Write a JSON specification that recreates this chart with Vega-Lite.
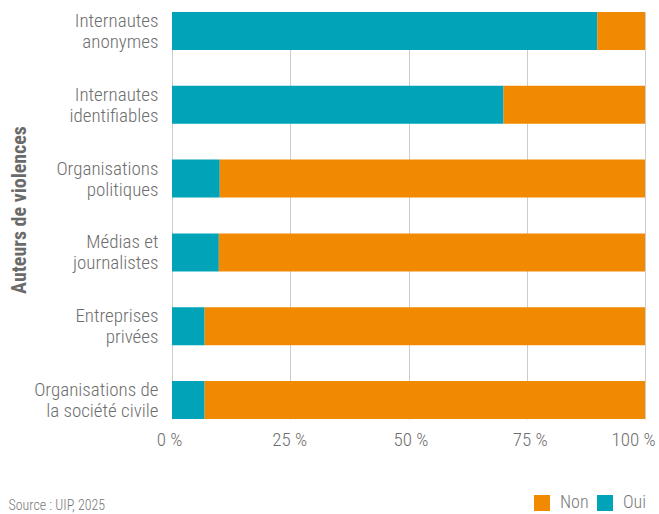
{
  "$schema": "https://vega.github.io/schema/vega-lite/v6.json",
  "width": 473,
  "height": 407,
  "autosize": "none",
  "padding": {"left": 172, "top": 12, "right": 14, "bottom": 95},
  "background": "white",
  "config": {
    "view": {"stroke": null},
    "font": "Roboto Condensed, DejaVu Sans Condensed, sans-serif"
  },
  "data": {
    "values": [
      {"auteur": "Internautes anonymes", "reponse": "Oui", "pct": 89.9},
      {"auteur": "Internautes anonymes", "reponse": "Non", "pct": 10.1},
      {"auteur": "Internautes identifiables", "reponse": "Oui", "pct": 70.1},
      {"auteur": "Internautes identifiables", "reponse": "Non", "pct": 29.9},
      {"auteur": "Organisations politiques", "reponse": "Oui", "pct": 10.1},
      {"auteur": "Organisations politiques", "reponse": "Non", "pct": 89.9},
      {"auteur": "Médias et journalistes", "reponse": "Oui", "pct": 9.9},
      {"auteur": "Médias et journalistes", "reponse": "Non", "pct": 90.1},
      {"auteur": "Entreprises privées", "reponse": "Oui", "pct": 6.9},
      {"auteur": "Entreprises privées", "reponse": "Non", "pct": 93.1},
      {"auteur": "Organisations de la société civile", "reponse": "Oui", "pct": 6.9},
      {"auteur": "Organisations de la société civile", "reponse": "Non", "pct": 93.1}
    ]
  },
  "mark": {"type": "bar"},
  "encoding": {
    "y": {
      "field": "auteur",
      "type": "nominal",
      "sort": null,
      "scale": {"paddingInner": 0.485, "paddingOuter": 0},
      "axis": {
        "title": "Auteurs de violences",
        "titleFont": "Roboto Condensed, sans-serif",
        "titleFontSize": 20,
        "titleFontWeight": "bold",
        "titleColor": "#6a6a6a",
        "titleX": -153,
        "titleY": 197.5,
        "titleAngle": -90,
        "titleAlign": "center",
        "titleBaseline": "middle",
        "labelFontSize": 19,
        "labelFontWeight": 300,
        "labelColor": "#6e6e6e",
        "labelPadding": 14,
        "labelLineHeight": 21,
        "labelOffset": -10,
        "labelLimit": 200,
        "domain": false,
        "ticks": false,
        "labelExpr": "{'Internautes anonymes': ['Internautes', 'anonymes'], 'Internautes identifiables': ['Internautes', 'identifiables'], 'Organisations politiques': ['Organisations', 'politiques'], 'Médias et journalistes': ['Médias et', 'journalistes'], 'Entreprises privées': ['Entreprises', 'privées'], 'Organisations de la société civile': ['Organisations de', 'la société civile']}[datum.value]"
      }
    },
    "x": {
      "field": "pct",
      "type": "quantitative",
      "stack": "zero",
      "scale": {"domain": [0, 100], "nice": false},
      "axis": {
        "values": [0, 25, 50, 75, 100],
        "labelExpr": "datum.value + ' %'",
        "labelFontSize": 19,
        "labelFontWeight": 300,
        "labelColor": "#6e6e6e",
        "labelPadding": 11,
        "labelFlush": false,
        "labelOffset": {"condition": [
          {"test": "datum.value == 100", "value": -12},
          {"test": "datum.value == 0", "value": -3},
          {"test": "datum.value == 25", "value": -1},
          {"test": "datum.value == 50", "value": 2},
          {"test": "datum.value == 75", "value": 3}
        ], "value": 0},
        "domain": false,
        "ticks": false,
        "grid": true,
        "gridColor": "#cccccc",
        "gridWidth": 1,
        "title": "Source : UIP, 2025",
        "titleFontSize": 14,
        "titleFontWeight": 300,
        "titleColor": "#777777",
        "titleX": -164,
        "titleY": 86,
        "titleAlign": "left",
        "titleBaseline": "middle",
        "titleAnchor": null
      }
    },
    "color": {
      "field": "reponse",
      "type": "nominal",
      "scale": {"domain": ["Non", "Oui"], "range": ["#F18A00", "#00A3B7"]},
      "legend": {
        "title": null,
        "orient": "none",
        "direction": "horizontal",
        "legendX": 361,
        "legendY": 482,
        "padding": 0,
        "symbolType": "square",
        "symbolSize": 256,
        "symbolStrokeWidth": 0,
        "symbolOpacity": 1,
        "labelFontSize": 18,
        "labelFontWeight": 300,
        "labelBaseline": "middle",
        "labelColor": "#7a7a7a",
        "labelOffset": 9,
        "columnPadding": 7
      }
    },
    "order": {"field": "reponse", "sort": "descending"}
  }
}
